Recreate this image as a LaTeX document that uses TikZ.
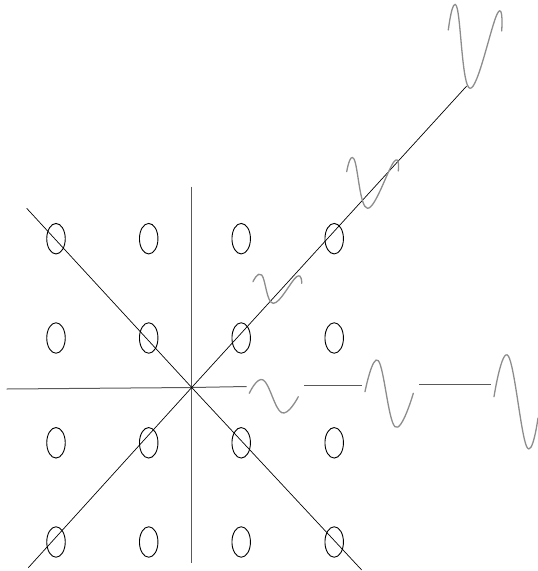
\documentclass[tikz,border=0pt]{standalone}
\usepackage{tikz}
\usetikzlibrary{shapes.geometric}

\begin{document}
\begin{tikzpicture}[
        x=1pt, y=-1pt,
        cell/.style={draw, ellipse, line width=0.9pt, minimum width=18.5pt, minimum height=30.5pt, inner sep=0pt},
        axis/.style={draw=black!65, line width=1pt},
        diag/.style={draw=black, line width=0.7pt},
        wave/.style={draw=black!45, line width=1.3pt, line cap=round, smooth, tension=0.7}
    ]
    \useasboundingbox (0,0) rectangle (538,571);

    % constellation points
    \foreach \cx [count=\i] in {56,148.7,241.2,334.2}
        \foreach \cy [count=\j] in {238.7,338,442.8,542}
            \node[cell] (e-\i-\j) at (\cx,\cy) {};

    % axes through the origin
    \coordinate (o) at (191.7,387.5);
    \coordinate (vtop) at (191.7,186.7);
    \coordinate (vbot) at (191.7,563);
    \coordinate (hleft) at (6.7,389);
    \coordinate (hright) at (246.7,386.5);
    \draw[axis] (vtop) -- (vbot);
    \draw[axis] (hleft) -- (o) -- (hright);

    % diagonals
    \coordinate (dlow) at (28.3,567.7);
    \coordinate (dhigh) at (466.7,86);
    \coordinate (alow) at (26.7,208.3);
    \coordinate (ahigh) at (361.7,570);
    \draw[diag] (dlow) -- (o) -- (dhigh);
    \draw[diag] (alow) -- (o) -- (ahigh);

    % links between waves on the horizontal
    \coordinate (s1a) at (304,385.7);
    \coordinate (s1b) at (361.7,385.7);
    \coordinate (s2a) at (419.3,384.3);
    \coordinate (s2b) at (490.7,384.3);
    \draw[axis] (s1a) -- (s1b);
    \draw[axis] (s2a) -- (s2b);

    % waves along the horizontal
    \draw[wave] plot coordinates {(249.3,393.3) (263.3,380) (281.7,412.7) (298.3,396.7)};
    \draw[wave] plot coordinates {(365,391.7) (378.3,360.7) (395,426.7) (413.3,393.3)};
    \draw[wave] plot coordinates {(494,396.7) (508.3,356) (526.7,446.7) (538,418)};

    % waves along the diagonal
    \draw[wave] plot coordinates {(253,281.7) (261.7,275) (273.3,303.3) (296.7,276.7) (301.7,283.3)};
    \draw[wave] plot coordinates {(346.7,171.7) (354,159) (367.5,208.3) (394,161.7) (398.3,171)};
    \draw[wave] plot coordinates {(448.3,30) (456.7,6.7) (470,88.3) (497.5,13.3) (501.7,31)};
\end{tikzpicture}
\end{document}
